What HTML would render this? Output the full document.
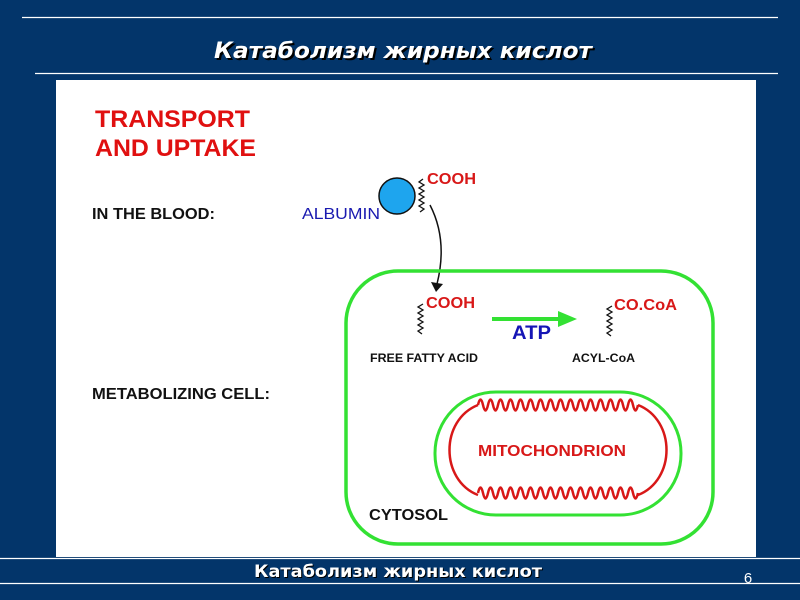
<!DOCTYPE html>
<html><head><meta charset="utf-8"><style>
body{margin:0;width:800px;height:600px;background:#03356a;overflow:hidden}
text{font-family:"Liberation Sans",Arial,sans-serif}
</style></head><body>
<svg width="800" height="600" xmlns="http://www.w3.org/2000/svg" style="position:absolute;left:0;top:0">
<rect width="800" height="600" fill="#03356a"/>
<line x1="22" y1="17.5" x2="778" y2="17.5" stroke="#fff" stroke-width="1.2"/>
<line x1="35" y1="73.5" x2="778" y2="73.5" stroke="#fff" stroke-width="1.2"/>
<text x="216" y="60" style="font-family:'DejaVu Sans',sans-serif" font-size="22" font-weight="bold" font-style="italic" fill="#000" textLength="378" lengthAdjust="spacingAndGlyphs">Катаболизм  жирных  кислот</text>
<text x="214" y="58" style="font-family:'DejaVu Sans',sans-serif" font-size="22" font-weight="bold" font-style="italic" fill="#fff" textLength="378" lengthAdjust="spacingAndGlyphs">Катаболизм  жирных  кислот</text>
<rect x="56" y="80" width="700" height="477" fill="#fff"/>
<line x1="0" y1="558.5" x2="800" y2="558.5" stroke="#fff" stroke-width="1.2"/>
<line x1="0" y1="583.5" x2="800" y2="583.5" stroke="#fff" stroke-width="1.2"/>
<text x="255" y="578" style="font-family:'DejaVu Sans',sans-serif" font-size="17" font-weight="bold" fill="#000" textLength="288" lengthAdjust="spacingAndGlyphs">Катаболизм жирных кислот</text>
<text x="254" y="577" style="font-family:'DejaVu Sans',sans-serif" font-size="17" font-weight="bold" fill="#fff" textLength="288" lengthAdjust="spacingAndGlyphs">Катаболизм жирных кислот</text>
<text x="748" y="583" text-anchor="middle" font-size="15" fill="#fff">6</text>

<text x="95" y="127" font-size="24" font-weight="bold" fill="#e01010" textLength="155" lengthAdjust="spacingAndGlyphs">TRANSPORT</text>
<text x="95" y="156" font-size="24" font-weight="bold" fill="#e01010" textLength="161" lengthAdjust="spacingAndGlyphs">AND UPTAKE</text>
<text x="92" y="219" font-size="16" font-weight="bold" fill="#111" textLength="123" lengthAdjust="spacingAndGlyphs">IN THE BLOOD:</text>
<text x="92" y="399" font-size="16" font-weight="bold" fill="#111" textLength="178" lengthAdjust="spacingAndGlyphs">METABOLIZING CELL:</text>
<text x="302" y="219" font-size="16" fill="#1a1ab0" textLength="78" lengthAdjust="spacingAndGlyphs">ALBUMIN</text>

<circle cx="397" cy="196" r="18" fill="#1ea5ee" stroke="#111" stroke-width="1.5"/>
<polyline points="423,179 419,182 424,185 419,188 424,191 419,194 424,197 419,200 424,203 419,206 424,209 420,212" fill="none" stroke="#111" stroke-width="1.3"/>
<text x="427" y="184" font-size="16" font-weight="bold" fill="#d81818" textLength="49" lengthAdjust="spacingAndGlyphs">COOH</text>
<path d="M430,205 Q448,240 437,284" fill="none" stroke="#111" stroke-width="1.5"/>
<polygon points="431,282 443,284 436,292" fill="#111"/>

<rect x="346" y="271" width="367" height="273" rx="52" fill="none" stroke="#33e133" stroke-width="3.5"/>
<rect x="435" y="392" width="246" height="123" rx="61" fill="none" stroke="#33e133" stroke-width="3"/>

<polyline points="423,304 418,307 423,310 418,313 423,316 418,319 423,322 418,325 423,328 418,331 422,334" fill="none" stroke="#111" stroke-width="1.3"/>
<text x="426" y="308" font-size="16" font-weight="bold" fill="#d81818" textLength="49" lengthAdjust="spacingAndGlyphs">COOH</text>
<text x="370" y="362" font-size="12" font-weight="bold" fill="#111" textLength="108" lengthAdjust="spacingAndGlyphs">FREE FATTY ACID</text>
<line x1="492" y1="319" x2="562" y2="319" stroke="#33e133" stroke-width="4"/>
<polygon points="558,311 577,319 558,327" fill="#33e133"/>
<text x="512" y="339" font-size="19" font-weight="bold" fill="#1515b5" textLength="39" lengthAdjust="spacingAndGlyphs">ATP</text>
<polyline points="612,306 607,309 612,312 607,315 612,318 607,321 612,324 607,327 612,330 607,333 611,336" fill="none" stroke="#111" stroke-width="1.3"/>
<text x="614" y="310" font-size="16" font-weight="bold" fill="#d81818" textLength="63" lengthAdjust="spacingAndGlyphs">CO.CoA</text>
<text x="572" y="362" font-size="12" font-weight="bold" fill="#111" textLength="63" lengthAdjust="spacingAndGlyphs">ACYL-CoA</text>

<path d="M478,405 q2.5,-11 5,0 t5,0 t5,0 t5,0 t5,0 t5,0 t5,0 t5,0 t5,0 t5,0 t5,0 t5,0 t5,0 t5,0 t5,0 t5,0 t5,0 t5,0 t5,0 t5,0 t5,0 t5,0 t5,0 t5,0 t5,0 t5,0 t5,0 t5,0 t5,0 t5,0 t5,0 t5,0" fill="none" stroke="#d81818" stroke-width="2.5"/>
<path d="M478,493 q2.5,-11 5,0 t5,0 t5,0 t5,0 t5,0 t5,0 t5,0 t5,0 t5,0 t5,0 t5,0 t5,0 t5,0 t5,0 t5,0 t5,0 t5,0 t5,0 t5,0 t5,0 t5,0 t5,0 t5,0 t5,0 t5,0 t5,0 t5,0 t5,0 t5,0 t5,0 t5,0 t5,0" fill="none" stroke="#d81818" stroke-width="2.5"/>
<path d="M478,405 C440,420 440,480 478,495" fill="none" stroke="#d81818" stroke-width="2.5"/>
<path d="M638,405 C676,420 676,480 638,495" fill="none" stroke="#d81818" stroke-width="2.5"/>
<text x="478" y="456" font-size="16" font-weight="bold" fill="#d81818" textLength="148" lengthAdjust="spacingAndGlyphs">MITOCHONDRION</text>
<text x="369" y="520" font-size="16" font-weight="bold" fill="#111" textLength="79" lengthAdjust="spacingAndGlyphs">CYTOSOL</text>
</svg>
</body></html>
